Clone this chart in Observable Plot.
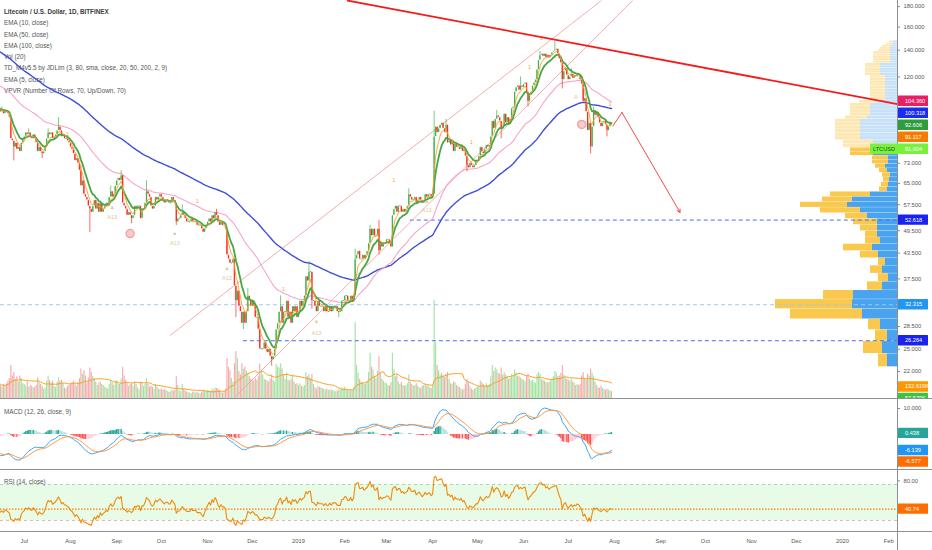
<!DOCTYPE html>
<html>
<head>
<meta charset="utf-8">
<script src="https://cdn.jsdelivr.net/npm/d3@7"></script>
<script src="https://cdn.jsdelivr.net/npm/@observablehq/plot@0.6"></script>
<style>
html,body{margin:0;padding:0;background:#fff;}
#chart{position:relative;width:932px;height:550px;overflow:hidden;font-family:"Liberation Sans",Arial,sans-serif;background:#fff;}
.layer{position:absolute;left:0;overflow:hidden;}
.legend{position:absolute;left:4px;font-size:6.3px;line-height:11.3px;color:#555;white-space:nowrap;}
.legend .t{color:#3a3a3a;font-weight:bold;}
.sep{position:absolute;background:#8c8f97;}
</style>
</head>
<body>
<div id="chart"></div>
<script>
// ---------------- DATA ----------------
const startDate = "2018-06-14";
const firstOpen = 101;
// daily closes (USD)
const cJun18 = [100,98,99,97,99,98,97,95,84,83,80,82,79,80,78,82,84];
const cJul18 = [85,87,86,87,85,84,86,84,82,78,80,78,77,78,80,84,87,86,87,84,85,86,88,90,88,85,86,84,84,83,82];
const cAug18 = [80,79,77,74,75,73,70,64,66,61,60,59,57,56,55,57,59,56,58,55,58,55,56,57,58,57,60,62,60,61,64];
const cSep18 = [66,67,66,68,58,57,56,54,55,54,53,54,57,56,57,57,53,56,56,58,62,61,60,57,56,57,60,59,60,61];
const cOct18 = [60,59,58,59,59,58,58,60,59,58,52,53,53,54,55,54,53,52,52,52,53,52,52,52,51,51,51,50,49,50,51];
const cNov18 = [52,53,52,54,53,55,54,52,51,52,51,51,50,43,42,41,41,42,36,33,35,32,31,29,31,29,31,34,33,32];
const cDec18 = [33,32,30,30,28,25,25,25,26,25,24.5,25,24,23.5,24,25,28,29,31,32,29,31,31,33,30,31,29,32,31,32,30];
const cJan19 = [31,33,32,33,34,38,37,39,39,33,33,32,31,33,32,32,32,31,32,31,31,32,31,32,32,32,31,31,31,33,33];
const cFeb19 = [34,34,33,33,34,33,34,42,43,44,42,42,43,42,43,44,46,50,48,50,48,48,50,44,46,45,46,46];
const cMar19 = [47,47,46,45,54,56,57,55,57,57,55,56,55,56,57,61,60,59,59,60,58,59,60,59,58,59,61,60,61,61,60];
const cApr19 = [61,85,90,87,89,91,92,89,87,91,82,83,81,83,78,82,80,80,79,81,78,79,76,72,71,73,72,71,72,74];
const cMay19 = [74,76,80,78,77,79,81,80,81,85,93,89,94,96,95,93,89,90,97,92,95,91,94,100,101,110,113,114,111,114,113];
const cJun19 = [115,116,110,104,108,110,114,116,118,125,132,136,137,135,137,134,136,134,136,138,139,140,141,137,133,130,118,124,126,121];
const cJul19 = [118,120,122,119,121,120,122,121,118,115,104,106,98,88,92,80,90,99,96,98,95,92,90,92,93,91,88,90,92,91];
// daily volume (thousands)
const vJun18 = [180,150,130,160,140,170,200,230,380,260,300,220,250,190,260,230,170];
const vJul18 = [160,140,190,130,150,140,120,130,150,240,180,160,140,110,120,200,260,210,180,200,140,130,190,240,200,210,170,120,110,140,150];
const vAug18 = [160,180,200,170,140,180,230,340,280,320,260,180,240,350,300,250,230,190,150,180,190,160,150,130,120,110,160,200,180,150,190];
const vSep18 = [200,170,160,220,360,260,210,170,140,160,170,140,190,160,120,100,190,170,140,160,230,160,130,140,130,110,160,130,110,100];
const vOct18 = [110,95,100,95,80,70,75,95,85,95,250,150,85,80,160,110,85,75,70,60,55,75,70,60,70,60,55,70,95,85,75];
const vNov18 = [95,85,75,110,95,120,115,110,95,70,60,75,110,460,360,320,230,190,400,540,460,310,270,400,340,360,320,290,250,220];
const vDec18 = [210,200,230,210,250,400,320,270,220,210,200,190,220,270,210,190,390,360,350,400,340,270,220,290,210,200,220,270,190,160,170];
const vJan19 = [150,170,140,130,150,300,250,280,230,280,160,120,110,140,130,120,115,105,95,105,95,100,95,90,85,75,85,100,95,120,110];
const vFeb19 = [130,105,95,85,95,90,120,870,380,290,220,190,180,160,170,200,300,520,360,330,250,230,310,480,290,220,200,180];
const vMar19 = [170,150,140,180,520,330,250,270,190,160,180,150,140,150,170,270,190,160,140,150,170,140,125,115,140,150,160,140,150,125,115];
const vApr19 = [150,1130,640,380,320,270,290,260,240,280,300,220,170,160,190,180,150,140,125,110,95,110,160,220,180,135,110,95,110,120];
const vMay19 = [130,140,200,180,160,145,170,145,160,250,380,310,350,330,290,280,350,270,300,270,250,220,235,280,260,330,290,260,250,235,220];
const vJun19 = [210,190,250,280,220,200,210,190,175,270,300,280,220,210,200,185,175,185,200,220,250,310,290,250,260,290,380,270,235,220];
const vJul19 = [210,200,220,190,175,150,160,150,160,260,300,230,210,280,260,340,290,250,190,150,125,115,140,115,105,95,105,95,85,80];
// notable wicks [date, price]
const wickHighs = [["2018-06-16",101],["2018-06-22",96],["2018-07-04",89],["2018-07-17",89],["2018-07-24",95],["2018-08-08",72],["2018-08-28",64],["2018-09-04",70],["2018-09-21",66],["2018-10-15",57.5],["2018-11-07",56],["2018-11-28",35.5],["2018-12-20",34],["2019-01-08",41.5],["2019-02-08",44.5],["2019-02-18",51],["2019-02-24",52.5],["2019-03-16",63],["2019-04-02",98.5],["2019-04-10",94],["2019-05-14",99],["2019-05-30",120],["2019-06-12",139],["2019-06-22",147],["2019-07-03",126],["2019-07-18",101]];
const wickLows = [["2018-06-24",74],["2018-07-13",75],["2018-08-14",49],["2018-09-11",51.5],["2018-10-11",51],["2018-11-20",30],["2018-11-25",28],["2018-12-14",22.7],["2019-01-10",31.5],["2019-01-28",30],["2019-02-24",43],["2019-04-24",69.5],["2019-05-17",84],["2019-06-04",101],["2019-06-27",112],["2019-07-16",77],["2019-07-27",85]];
// indicator seeds (values read at the left edge)
const seedEMA50 = 115, seedEMA100 = 140, seedEMA12 = 108, seedEMA26 = 116, seedSignal = -7, seedGain = 1.3, seedLoss = 2.0;
// axis ticks
const priceTicks = [180,160,140,120,73,65,57.5,49.5,43.5,37.5,28.5,25,22];
const monthTicks = ["2018-07-01","2018-08-01","2018-09-01","2018-10-01","2018-11-01","2018-12-01","2019-01-01","2019-02-01","2019-03-01","2019-04-01","2019-05-01","2019-06-01","2019-07-01","2019-08-01","2019-09-01","2019-10-01","2019-11-01","2019-12-01","2020-01-01","2020-02-01"];
const monthLabels = ["Jul","Aug","Sep","Oct","Nov","Dec","2019","Feb","Mar","Apr","May","Jun","Jul","Aug","Sep","Oct","Nov","Dec","2020","Feb"];
const macdTicks = [10];
const rsiTicks = [80];
const rsiBands = [75, 25];
// drawings
const hLines = [{price:52.618,start:"2019-03-17",color:"#4d6cf2"},{price:32.315,start:"2018-06-01",color:"#9ccbf7"},{price:26.264,start:"2018-11-25",color:"#4d6cf2"}];
const trendLine = [{date:"2019-02-03",price:186.3},{date:"2020-02-06T21:00Z",price:102.6}];
const channelA = [{date:"2018-10-07",price:27.1},{date:"2019-07-23",price:186}];
const channelB = [{date:"2018-11-20",price:19.1},{date:"2019-08-13",price:186}];
const arrowLeg = [{date:"2019-07-31",price:90.5},{date:"2019-08-06",price:97.8}];
const arrows = [{from:"2019-08-06",p1:97.8,to:"2019-09-14",p2:55.0}];
const tdTexts = [["2018-08-29",53.4,"A13"],["2018-08-29",56.6,"▲"],["2018-10-10",46.0,"A13"],["2018-10-10",48.7,"▲"],["2018-11-14",37.6,"A13"],["2018-11-14",39.8,"▲"],["2019-01-13",27.5,"A13"],["2019-01-13",29.2,"▼"],["2019-03-28",55.6,"A13"],["2019-03-28",58.8,"▲"],["2019-07-06",107,"A"]];
const tdOnes = [["2018-07-30",86.4],["2018-10-25",58.5],["2018-12-22",35.4],["2019-03-06",66.2],["2019-04-27",82.4],["2019-06-05",126.6],["2019-06-13",149.6],["2019-07-29",102.8]];
const tdCircles = [["2018-09-10",48.7],["2019-07-10",91.3]];
// volume profile (70 rows, bottom->top), widths in px-units
const vpLow = 22.6, vpStep = 1.79;
const vpUp =   [10,15,10,17,35,45,44,15,9,15,12,19,25,17,20,20,20,30,37,50, 45,27,10,9,8,7,10,12,9,9, 24,24,24,24,37,37,37,37,37,37, 30,27,27,27,27,20,12,12,12,12, 12,12,12,12,12,17,17,17,17,17, 7,7,7,7,7,7,7,7,5,4];
const vpDown = [9,19,12,12,72,77,30,15,10,12,7,18,29,15,12,17,24,22,40,47, 30,40,8,7,6,8,8,10,16,16, 23,23,30,30,25,25,25,25,25,25, 22,20,20,20,20,18,15,15,15,15, 15,15,15,15,15,15,15,15,15,15, 17,17,17,17,17,12,10,8,6,4];
const vpValueAreaTop = 31;
// last-value labels
const priceLabels = [{text:"104.360",value:104.36,bg:"#e91e63"},{text:"100.318",value:100.318,bg:"#1a2bf5"},{text:"92.606",value:92.606,bg:"#2e9d3e"},{text:"91.117",value:91.117,bg:"#f57c00"},{text:"91.004",value:91.004,bg:"#79f03c",sym:"LTCUSD"},{text:"52.618",value:52.618,bg:"#1a22f0"},{text:"32.315",value:32.315,bg:"#2196f3"},{text:"26.264",value:26.264,bg:"#1a22f0"}];
const volLabels = [{text:"132.619K",value:132.619,bg:"#ff9800"},{text:"57.579K",value:60,bg:"#3cc43c"}];
const macdLabels = [{text:"0.438",value:0.438,bg:"#26a69a"},{text:"-6.139",value:-6.139,bg:"#2196f3"},{text:"-6.577",value:-6.577,bg:"#ff6d00"}];
const rsiLabels = [{text:"40.74",value:40.74,bg:"#ff6d00"}];
const legendLines = ["Litecoin / U.S. Dollar, 1D, BITFINEX","EMA (10, close)","EMA (50, close)","EMA (100, close)","Vol (20)","TD_M4v5.5 by JDLim (3, 80, sma, close, 20, 50, 200, 2, 9)","EMA (5, close)","VPVR (Number Of Rows, 70, Up/Down, 70)"];

// ---------------- LAYOUT ----------------
const W = 932, AXIS_X = 897;
const MAIN_H = 398, MACD_TOP = 399, MACD_H = 70, RSI_TOP = 470, RSI_H = 61, TAX_TOP = 532, TAX_H = 18;
const xDomain = [new Date("2018-06-15T01:12Z"), new Date("2020-02-06T21:36Z")];
const priceDomain = [18.83, 186.4];
const volDomain = [0, 4577];
const macdDomain = [-13.46, 13.46];
const rsiDomain = [9.72, 94.44];
const FONT = '"Liberation Sans", Arial, sans-serif';
const GREEN = "#3cb44b", RED = "#ff2a1a";

// ---------------- DERIVED SERIES ----------------
const closes = [].concat(cJun18,cJul18,cAug18,cSep18,cOct18,cNov18,cDec18,cJan19,cFeb19,cMar19,cApr19,cMay19,cJun19,cJul19);
const volumes = [].concat(vJun18,vJul18,vAug18,vSep18,vOct18,vNov18,vDec18,vJan19,vFeb19,vMar19,vApr19,vMay19,vJun19,vJul19);
const dates = closes.map((_, i) => d3.utcDay.offset(new Date(startDate), i));
const key = d => d3.utcFormat("%Y-%m-%d")(d);
const hiMap = new Map(wickHighs), loMap = new Map(wickLows);
function ema(vals, n, seed) { const a = 2/(n+1); let e = seed === undefined ? vals[0] : seed; return vals.map(v => (e = a*v + (1-a)*e)); }
const e5 = ema(closes,5), e10 = ema(closes,10), e50 = ema(closes,50,seedEMA50), e100 = ema(closes,100,seedEMA100);
const e12 = ema(closes,12,seedEMA12), e26 = ema(closes,26,seedEMA26);
const macd = e12.map((v,i) => v - e26[i]);
const signal = ema(macd, 9, seedSignal);
const hist = macd.map((v,i) => v - signal[i]);
let ag = seedGain, al = seedLoss;
const rsi = closes.map((c,i) => { const prev = i ? closes[i-1] : firstOpen; const ch = c - prev; ag = (ag*13 + Math.max(ch,0))/14; al = (al*13 + Math.max(-ch,0))/14; return 100 - 100/(1 + ag/al); });
const rows = closes.map((c,i) => {
  const o = i ? closes[i-1] : firstOpen;
  const k = key(dates[i]);
  const high = Math.max(o, c, hiMap.get(k) ?? 0), low = Math.min(o, c, loMap.get(k) ?? Infinity);
  const vs = volumes.slice(Math.max(0,i-19), i+1);
  return {date: dates[i], open:o, close:c, high, low, bodyLo: Math.min(o,c), bodyHi: Math.max(o,c), up: c >= o, vol: volumes[i], volMA: d3.mean(vs),
    e5:e5[i], e10:e10[i], e50:e50[i], e100:e100[i], macd:macd[i], signal:signal[i], hist:hist[i],
    histColor: hist[i] >= 0 ? (i && hist[i] < hist[i-1] ? "#b2dfdb" : "#26a69a") : (i && hist[i] > hist[i-1] ? "#ffcdd2" : "#ff5252"), rsi:rsi[i]};
});
const vpRows = vpUp.map((u,i) => ({lo: vpLow + vpStep*i, hi: vpLow + vpStep*(i+1), up:u, down:vpDown[i], va: i <= vpValueAreaTop}));
const asDate = s => new Date(s);

// ---------------- RENDER ----------------
const chart = document.getElementById("chart");
function addLayer(node, top, height, z) {
  const d = document.createElement("div");
  d.className = "layer"; d.style.top = top + "px"; d.style.width = W + "px"; d.style.height = height + "px"; d.style.zIndex = z;
  d.appendChild(node); chart.appendChild(d); return d;
}
const style = {background:"transparent", fontFamily:FONT, fontSize:"5.8px", color:"#555", overflow:"visible"};
const frame = {width: W, marginTop:0, marginBottom:0, marginLeft:0, marginRight: W - AXIS_X, style};

const volPlot = Plot.plot({...frame, height: MAIN_H,
  x:{type:"utc", domain:xDomain, axis:null}, y:{domain:volDomain, axis:null},
  marks:[
    Plot.ruleX(rows, {x:"date", y1:0, y2:"vol", stroke:d => d.up ? "#a3e4a3" : "#f6acac", strokeWidth:1.15}),
    Plot.line(rows, {x:"date", y:"volMA", stroke:"#ff9d1e", strokeWidth:1})
  ]});
addLayer(volPlot, 0, MAIN_H, 1);

const vpPlot = Plot.plot({...frame, height: MAIN_H,
  x:{domain:[0, AXIS_X], range:[AXIS_X, 0], axis:null}, y:{type:"log", domain:priceDomain, axis:null},
  marks:[
    Plot.rect(vpRows, {x1:0, x2:"up", y1:"lo", y2:"hi", fill:d => d.va ? "#4aa3ee" : "#c6e1f8", insetTop:0.3}),
    Plot.rect(vpRows, {x1:"up", x2:d => d.up + d.down, y1:"lo", y2:"hi", fill:d => d.va ? "#f9c84c" : "#fde7b2", insetTop:0.3})
  ]});
addLayer(vpPlot, 0, MAIN_H, 2);

const leg = document.createElement("div");
leg.className = "legend"; leg.style.top = "6px"; leg.style.zIndex = 3;
leg.innerHTML = legendLines.map((t,i) => `<div class="${i===0?'t':''}">${t}</div>`).join("");
chart.appendChild(leg);

const main = Plot.plot({...frame, height: MAIN_H,
  x:{type:"utc", domain:xDomain, axis:null}, y:{type:"log", domain:priceDomain, axis:null},
  marks:[
    Plot.ruleY(hLines, {y:"price", x1:d => asDate(d.start), x2:() => xDomain[1], stroke:d => d.color, strokeDasharray:"4,3", strokeWidth:1}),
    Plot.line(channelA, {x:d => asDate(d.date), y:"price", stroke:"#f6a3a3", strokeWidth:0.9}),
    Plot.line(channelB, {x:d => asDate(d.date), y:"price", stroke:"#f6a3a3", strokeWidth:0.9}),
    Plot.line(rows, {x:"date", y:"e100", stroke:"#3e4fd6", strokeWidth:1.4}),
    Plot.line(rows, {x:"date", y:"e50", stroke:"#f6a5c8", strokeWidth:1.1}),
    Plot.ruleX(rows, {x:"date", y1:"low", y2:"high", stroke:d => d.up ? GREEN : RED, strokeWidth:0.7}),
    Plot.ruleX(rows, {x:"date", y1:"bodyLo", y2:"bodyHi", stroke:d => d.up ? GREEN : RED, strokeWidth:1.25, insetTop:-0.5, insetBottom:-0.5}),
    Plot.line(rows, {x:"date", y:"e10", stroke:"#43a84a", strokeWidth:1.8}),
    Plot.line(rows, {x:"date", y:"e5", stroke:"#ff9a2e", strokeWidth:0.9}),
    Plot.text(tdTexts, {x:d => asDate(d[0]), y:d => d[1], text:d => d[2], fill:"#d8c9a6", fontSize:5.5}),
    Plot.text(tdOnes, {x:d => asDate(d[0]), y:d => d[1], text:() => "1", fill:"#f5a04a", fontSize:5.5}),
    Plot.dot(tdCircles, {x:d => asDate(d[0]), y:d => d[1], r:4, fill:"#f8cccc", stroke:"#f2a5a5"}),
    Plot.line(trendLine, {x:d => asDate(d.date), y:"price", stroke:"#f51b1b", strokeWidth:1.8}),
    Plot.line(arrowLeg, {x:d => asDate(d.date), y:"price", stroke:"#f44b4b", strokeWidth:1}),
    Plot.arrow(arrows, {x1:d => asDate(d.from), y1:"p1", x2:d => asDate(d.to), y2:"p2", stroke:"#f44b4b", strokeWidth:1, headLength:5}),
    Plot.ruleY(priceTicks, {y:d => d, x1:() => xDomain[1], x2:() => d3.utcDay.offset(xDomain[1], 2), stroke:"#888"}),
    Plot.text(priceTicks, {y:d => d, text:d => d.toFixed(3), frameAnchor:"right", dx:6, textAnchor:"start", fill:"#555", fontSize:5.8})
  ]});
addLayer(main, 0, MAIN_H, 4);

const macdPlot = Plot.plot({...frame, height: MACD_H,
  x:{type:"utc", domain:xDomain, axis:null}, y:{domain:macdDomain, axis:null},
  marks:[
    Plot.ruleX(rows, {x:"date", y1:0, y2:"hist", stroke:"histColor", strokeWidth:1.4}),
    Plot.line(rows, {x:"date", y:"macd", stroke:"#3da5f4", strokeWidth:1}),
    Plot.line(rows, {x:"date", y:"signal", stroke:"#ff9640", strokeWidth:1}),
    Plot.ruleY(macdTicks, {y:d => d, x1:() => xDomain[1], x2:() => d3.utcDay.offset(xDomain[1], 2), stroke:"#888"}),
    Plot.text(macdTicks, {y:d => d, text:d => d.toFixed(3), frameAnchor:"right", dx:6, textAnchor:"start", fill:"#555", fontSize:5.8})
  ]});
addLayer(macdPlot, MACD_TOP, MACD_H, 4);

const rsiPlot = Plot.plot({...frame, height: RSI_H,
  x:{type:"utc", domain:xDomain, axis:null}, y:{domain:rsiDomain, axis:null},
  marks:[
    Plot.rect([rsiBands], {x1:() => xDomain[0], x2:() => xDomain[1], y1:d => d[1], y2:d => d[0], fill:"#e7fbe7"}),
    Plot.ruleY([rsiBands[0]], {y:d => d, stroke:"#a8d8a8", strokeDasharray:"3,3"}),
    Plot.ruleY([rsiBands[1]], {y:d => d, stroke:"#f3b1b1", strokeDasharray:"3,3"}),
    Plot.ruleY(rsiLabels, {y:"value", stroke:"#ff7a00", strokeWidth:1.4, strokeDasharray:"1.5,1.5"}),
    Plot.line(rows, {x:"date", y:"rsi", stroke:"#f08a0c", strokeWidth:1.1}),
    Plot.ruleY(rsiTicks, {y:d => d, x1:() => xDomain[1], x2:() => d3.utcDay.offset(xDomain[1], 2), stroke:"#888"}),
    Plot.text(rsiTicks, {y:d => d, text:d => d.toFixed(2), frameAnchor:"right", dx:6, textAnchor:"start", fill:"#555", fontSize:5.8})
  ]});
addLayer(rsiPlot, RSI_TOP, RSI_H, 4);

const taxPlot = Plot.plot({...frame, height: TAX_H,
  x:{type:"utc", domain:xDomain, axis:null}, y:{axis:null},
  marks:[ Plot.text(monthTicks, {x:d => asDate(d), text:(d,i) => monthLabels[i], fill:"#555", fontSize:5.8}) ]});
addLayer(taxPlot, TAX_TOP, TAX_H, 4);

// separators & price axis line
[[MAIN_H,0,W,1],[MACD_TOP+MACD_H,0,W,1],[TAX_TOP-1,0,W,1],[0,AXIS_X,1,550]].forEach(([t,l,w,h]) => {
  const s = document.createElement("div"); s.className = "sep";
  Object.assign(s.style, {top:t+"px", left:l+"px", width:w+"px", height:h+"px", zIndex:6}); chart.appendChild(s);
});
// pane titles
[["MACD (12, 26, close, 9)", MACD_TOP + 6.5],["RSI (14, close)", RSI_TOP + 5.5]].forEach(([t,top]) => {
  const d = document.createElement("div"); d.className = "legend"; d.style.top = top + "px"; d.style.zIndex = 5; d.textContent = t; chart.appendChild(d);
});

// last-value labels on the price axis
const ov = d3.create("svg").attr("width", W).attr("height", 550).style("position","absolute").style("left",0).style("top",0).style("z-index",7).style("font-family", FONT);
ov.append("clipPath").attr("id","cpMain").append("rect").attr("x",0).attr("y",0).attr("width",W).attr("height",MAIN_H);
function drawLabels(list, scale, offset, g, gap) {
  const sorted = list.map(d => ({...d, y: scale.apply(d.value) + offset})).sort((a,b) => a.y - b.y);
  let last = -Infinity;
  sorted.forEach(d => {
    const y = Math.max(d.y, last + gap); last = y;
    const x0 = d.sym ? AXIS_X - 27 : AXIS_X + 1;
    g.append("rect").attr("x", x0).attr("y", y - 5.2).attr("width", (AXIS_X + 31) - x0).attr("height", 10.4).attr("fill", d.bg).attr("rx", 0.5);
    if (d.sym) g.append("text").attr("x", x0 + 3).attr("y", y).attr("dy","0.35em").attr("font-size", 5.6).attr("fill","#24502a").text(d.sym);
    g.append("text").attr("x", AXIS_X + 8).attr("y", y).attr("dy","0.35em").attr("font-size", 5.6).attr("fill","#fff").text(d.text);
  });
}
const gMain = ov.append("g").attr("clip-path","url(#cpMain)");
drawLabels(priceLabels, main.scale("y"), 0, gMain, 12);
drawLabels(volLabels, volPlot.scale("y"), 0, gMain, 11.5);
drawLabels(macdLabels, macdPlot.scale("y"), MACD_TOP, ov.append("g"), 11.5);
drawLabels(rsiLabels, rsiPlot.scale("y"), RSI_TOP, ov.append("g"), 11.5);
chart.appendChild(ov.node());
</script>
</body>
</html>
